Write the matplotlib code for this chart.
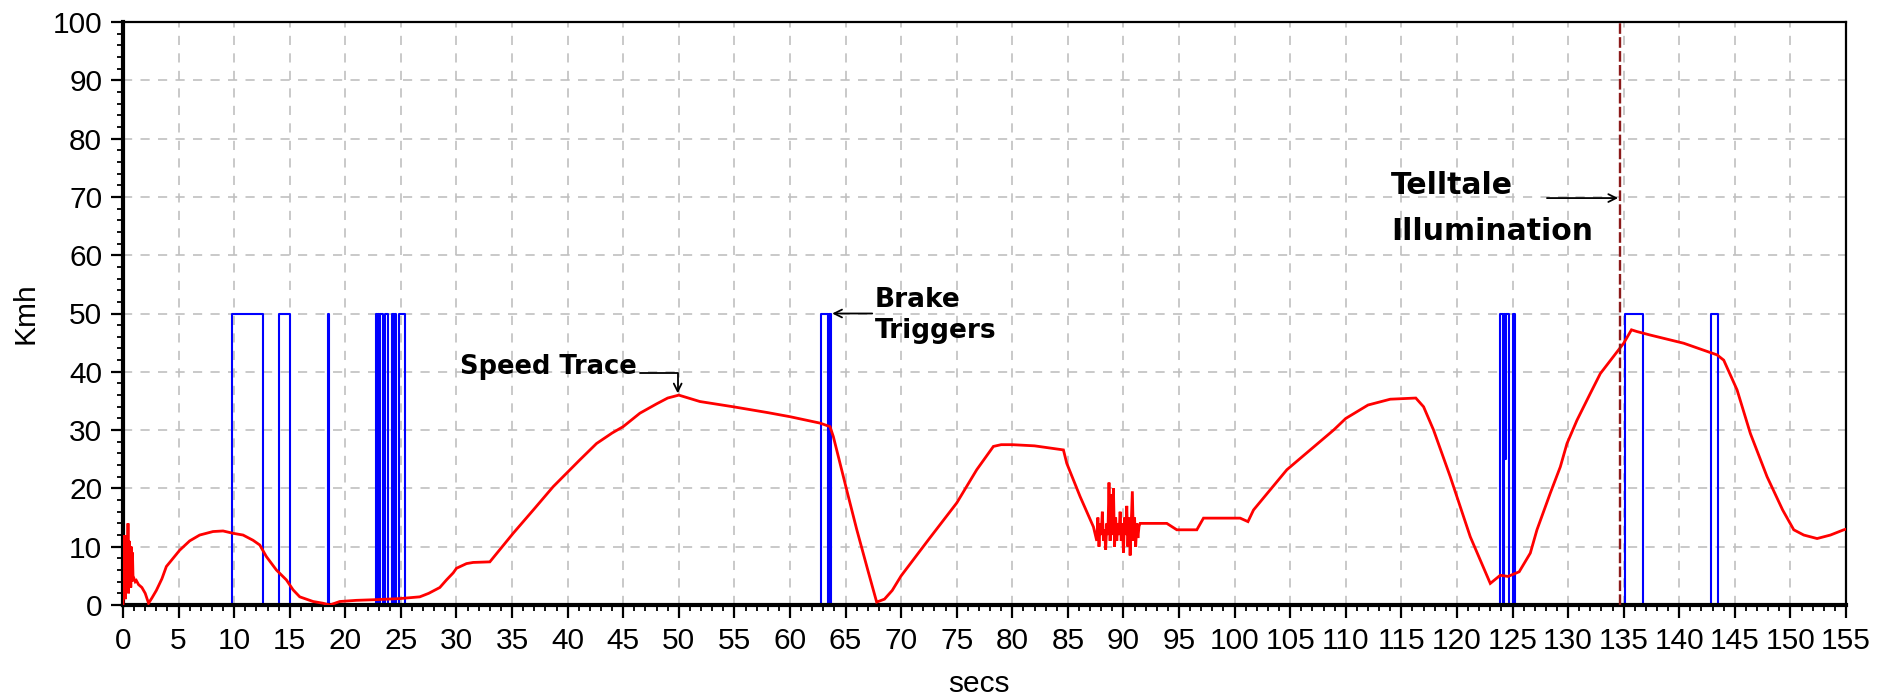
import matplotlib
matplotlib.use("Agg")
import matplotlib.pyplot as plt
from matplotlib.ticker import MultipleLocator

# ---------------- data ----------------
speed_t = [0, 0.05, 0.1, 0.15, 0.2, 0.25, 0.3, 0.35, 0.4, 0.45, 0.5, 0.55, 0.6, 0.65,
           0.7, 0.75, 0.8, 0.85, 0.9, 1.0, 1.1, 1.2, 1.4, 1.7, 2.0, 2.3, 2.6, 3.0,
           3.5, 3.9, 4.5, 5.1, 6.0, 6.9, 8.1, 9.0, 9.9, 10.8, 11.7, 12.3, 12.9,
           13.8, 14.7, 15.3, 15.9, 17.1, 18.0, 18.6, 19.5, 21.0, 22.5, 24.9, 26.7,
           27.5, 28.5, 29.1, 29.7, 30.0, 30.9, 31.5, 33.0, 35.1, 37.0, 38.7, 40.0,
           41.1, 42.6, 44.0, 45.0, 46.5, 48.0, 49.0, 50.0, 51.9, 54.9, 58.0, 60.0,
           62.7, 63.6, 63.9, 64.5, 65.2, 66.0, 67.0, 67.8, 68.5, 69.2, 70.0, 72.5,
           75.0, 76.8, 78.3, 79.0, 80.0, 82.0, 84.6, 84.9, 86.1, 87.3,
           87.6, 87.7, 87.8, 87.9, 88.0, 88.1, 88.2, 88.3, 88.4, 88.5, 88.6, 88.7,
           88.8, 88.9, 89.0, 89.1, 89.2, 89.3, 89.4, 89.5, 89.6, 89.7, 89.8, 89.9,
           90.0, 90.1, 90.2, 90.3, 90.4, 90.5, 90.6, 90.7, 90.8, 90.9, 91.0, 91.1,
           91.2, 91.3, 91.4, 91.5,
           93.9, 94.8, 96.6, 97.2, 100.5, 101.2, 101.7, 104.7, 108.9, 110.0, 112.0,
           114.0, 116.3, 117.0, 117.9, 119.4, 121.2, 123.0, 123.9, 124.6, 125.6,
           126.6, 127.2, 128.4, 129.3, 129.9, 130.8, 132.0, 132.9, 134.4, 135.0,
           135.7, 136.2, 137.4, 140.4, 143.4, 144.0, 145.2, 146.4, 147.9, 149.3,
           150.3, 151.2, 152.4, 153.6, 154.8, 155.0]
speed_v = [0, 11, 2, 12, 1, 10, 3, 12, 5, 14, 2, 11, 4, 10,
           3, 10, 4, 9, 5, 4.5, 4, 4.2, 3.5, 3, 2, 0.3, 1.2, 2.5,
           4.5, 6.6, 8.0, 9.4, 11.0, 12.0, 12.6, 12.7, 12.3, 12.0, 11.1, 10.3, 8.3,
           6.0, 4.3, 2.6, 1.4, 0.6, 0.3, 0.0, 0.6, 0.8, 0.9, 1.1, 1.4,
           2.0, 3.0, 4.3, 5.5, 6.3, 7.1, 7.3, 7.4, 12.3, 16.5, 20.3, 22.8,
           24.9, 27.7, 29.5, 30.6, 32.9, 34.5, 35.5, 36.0, 34.9, 34.0, 33.0, 32.3,
           31.2, 30.6, 28.9, 24.3, 19.0, 13.0, 6.0, 0.5, 1.0, 2.5, 5.0, 11.3,
           17.5, 23.2, 27.2, 27.5, 27.5, 27.3, 26.6, 24.3, 18.6, 13.4,
           11, 15, 10, 14, 12, 16, 11, 13, 9.5, 14, 12, 21,
           11, 19, 12, 20, 10, 15, 11, 14, 12, 16, 11, 14,
           9, 15, 12, 17, 10, 15, 8.5, 14, 19.5, 11, 15, 10,
           14, 11.5, 13.5, 14,
           14.0, 12.9, 12.9, 14.9, 14.9, 14.3, 16.3, 23.2, 30.0, 32.0, 34.3,
           35.3, 35.5, 34.0, 30.0, 22.0, 11.7, 3.7, 5.1, 4.9, 5.7,
           8.9, 12.9, 19.2, 23.7, 27.7, 31.7, 36.3, 39.7, 43.4, 44.9,
           47.2, 46.9, 46.3, 44.9, 42.9, 42.0, 36.9, 29.4, 22.0, 16.3,
           12.9, 12.0, 11.4, 12.0, 12.9, 13.0]

brake_t = [0, 9.8, 12.55, 14.0, 15.0, 18.45, 18.55, 22.75, 22.85, 22.95, 23.05,
           23.15, 23.35, 23.6, 23.8, 24.2, 24.35, 24.45, 24.6, 24.8, 25.35,
           62.8, 63.45, 63.55, 63.7, 123.85, 124.1, 124.2, 124.35, 124.45, 124.65,
           125.05, 125.25, 135.1, 136.7, 142.85, 143.45, 155.0]
brake_v = [0, 50, 0, 50, 0, 50, 0, 50, 0, 50, 0,
           50, 0, 50, 0, 50, 0, 50, 0, 50, 0,
           50, 0, 50, 0, 50, 0, 50, 25, 50, 0,
           50, 0, 50, 0, 50, 0, 0]

telltale_t = 134.7
x_ticks = list(range(0, 156, 5))
y_ticks = list(range(0, 101, 10))

# ---------------- figure ----------------
W, H = 1884, 699
fig = plt.figure(figsize=(W / 100, H / 100), dpi=100)
ax = fig.add_axes([123 / W, 1 - 605 / H, (1846 - 123) / W, (605 - 22) / H])

ax.plot(speed_t, speed_v, color="#ff0000", lw=2.0, zorder=3, solid_joinstyle="miter")
ax.plot(brake_t, brake_v, color="#0000ff", lw=1.5, drawstyle="steps-post", zorder=2)
ax.axvline(telltale_t, color="#8b1a1a", lw=1.7, ls=(0, (4.5, 1.4)), zorder=5)

ax.set_xlim(0, 155)
ax.set_ylim(0, 100)
ax.set_xticks(x_ticks)
ax.set_yticks(y_ticks)
ax.xaxis.set_minor_locator(MultipleLocator(1))
ax.yaxis.set_minor_locator(MultipleLocator(2))

tickfont = "Liberation Sans"
for lab in ax.get_xticklabels() + ax.get_yticklabels():
    lab.set_fontfamily(tickfont)
ax.tick_params(which="major", direction="out", length=9, width=1.6, labelsize=21.5,
               colors="black", pad=7)
ax.tick_params(which="minor", direction="out", length=4.5, width=1.3)
ax.tick_params(axis="y", which="major", pad=6)

ax.grid(True, which="major", color="#c0c0c0", lw=1.2, ls=(0, (5.5, 5)), zorder=0)
ax.set_axisbelow(True)

ax.spines["left"].set_linewidth(3.0)
ax.spines["bottom"].set_linewidth(3.0)
ax.spines["top"].set_linewidth(1.6)
ax.spines["right"].set_linewidth(1.6)
for s in ax.spines.values():
    s.set_zorder(2.5)

ax.set_xlabel("secs", fontsize=21.5, family=tickfont)
ax.xaxis.set_label_coords((979 - 123) / 1723, (605 - 684) / 583)
ax.xaxis.label.set_va("center")
ax.set_ylabel("Kmh", fontsize=21.5, family=tickfont)
ax.yaxis.set_label_coords((25 - 123) / 1723, 0.5)
ax.yaxis.label.set_va("center")

afont = dict(family="DejaVu Sans", weight="bold", color="black")
arw = dict(arrowstyle="->", color="black", lw=1.3, shrinkA=0, shrinkB=0,
           mutation_scale=14)

# Speed Trace
ax.text(46.2, 40.9, "Speed Trace", ha="right", va="center", fontsize=18.5, **afont)
ax.annotate("", xy=(49.9, 36.3), xytext=(46.5, 39.8),
            arrowprops=dict(connectionstyle="angle,angleA=0,angleB=90,rad=0", **arw))

# Brake Triggers
ax.text(67.65, 49.6, "Brake\nTriggers", ha="left", va="center", fontsize=19,
        linespacing=1.25, **afont)
ax.annotate("", xy=(63.8, 50.0), xytext=(67.4, 50.0), arrowprops=arw)

# Telltale Illumination
ax.text(114.07, 68.0, "Telltale\nIllumination", ha="left", va="center", fontsize=21.5,
        linespacing=1.72, **afont)
ax.annotate("", xy=(134.5, 69.8), xytext=(128.1, 69.8), arrowprops=arw)

fig.savefig("out.png", dpi=100, facecolor="white")
